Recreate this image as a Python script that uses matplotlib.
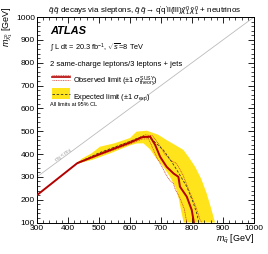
import numpy as np
import matplotlib
matplotlib.use("Agg")
import matplotlib.pyplot as plt
from matplotlib.lines import Line2D
from matplotlib.patches import Rectangle

plt.rcParams['font.family'] = ['Liberation Sans', 'DejaVu Sans']
plt.rcParams['mathtext.fontset'] = 'custom'
plt.rcParams['mathtext.rm'] = 'Liberation Sans'
plt.rcParams['mathtext.it'] = 'Liberation Sans:italic'
plt.rcParams['mathtext.bf'] = 'Liberation Sans:bold'

# observed limit
obs_x = [300, 430, 500, 600, 640, 665, 681, 697, 718, 740, 756, 761, 783, 799, 806]
obs_y = [220, 360, 398, 450, 474, 476, 440, 388, 344, 315, 300, 257, 213, 155, 100]

# observed +-1 sigma theory
thu_x = [430, 500, 600, 650, 672, 692, 712, 733, 750, 770, 794, 812, 826, 832]
thu_y = [362, 402, 456, 484, 480, 445, 400, 370, 359, 310, 228, 170, 111, 100]
thd_x = [430, 500, 600, 640, 660, 672, 688, 700, 705, 712, 725, 740, 746, 760, 775, 783]
thd_y = [358, 394, 444, 466, 466, 430, 380, 352, 340, 320, 290, 270, 245, 210, 160, 100]

# expected limit
exp_x = [430, 500, 600, 643, 670, 707, 730, 751, 783, 804, 815, 822]
exp_y = [360, 405, 455, 479, 465, 418, 375, 330, 257, 187, 140, 100]

# expected +-1 sigma band
bup_x = [430, 445, 476, 503, 550, 600, 621, 654, 690, 718, 745, 772, 790, 810, 830, 847, 862, 874]
bup_y = [362, 380, 403, 432, 447, 470, 498, 502, 485, 461, 440, 418, 385, 344, 290, 228, 160, 100]
blo_x = [430, 480, 540, 600, 621, 643, 665, 685, 707, 729, 748, 758, 765, 773]
blo_y = [358, 375, 405, 438, 446, 447, 420, 380, 345, 300, 250, 200, 150, 100]

red = '#b40000'
thcol = '#d03020'
yellow = '#ffe41c'

fig = plt.figure(figsize=(2.68, 2.54), dpi=100)
ax = fig.add_axes([0.138, 0.124, 0.81, 0.809])

ax.fill(bup_x + blo_x[::-1], bup_y + blo_y[::-1], color=yellow, lw=0, zorder=1)
ax.plot([300, 1000], [300, 1000], color='#bbbbbb', lw=0.6, zorder=1)
ax.plot(thu_x, thu_y, color=thcol, lw=0.5, ls=(0, (1.5, 1)), zorder=2)
ax.plot(thd_x, thd_y, color=thcol, lw=0.5, ls=(0, (1.5, 1)), zorder=2)
ax.plot(exp_x, exp_y, color='#333333', lw=0.6, ls=(0, (3, 2)), zorder=3)
ax.plot(obs_x, obs_y, color=red, lw=1.4, zorder=4)

ax.text(388, 392, r'$m_{\tilde{\chi}} < m_{\tilde{q}}$', rotation=36.4, fontsize=4,
        color='#999999', ha='center', va='center')

ax.set_xlim(300, 1000)
ax.set_ylim(100, 1000)
ax.set_xticks(np.arange(300, 1001, 100))
ax.set_yticks(np.arange(100, 1001, 100))
ax.set_xticks(np.arange(300, 1001, 20), minor=True)
ax.set_yticks(np.arange(100, 1001, 20), minor=True)
ax.tick_params(which='both', direction='in', top=True, right=True, labelsize=6, pad=1.5)
ax.tick_params(which='major', length=4, width=0.6)
ax.tick_params(which='minor', length=2, width=0.5)
for s in ax.spines.values():
    s.set_linewidth(0.7)

ax.set_xlabel(r'$m_{\tilde{q}}$ [GeV]', fontsize=6.5, loc='right', labelpad=1)
ax.set_ylabel(r'$m_{\tilde{\chi}^{0}_{1}}$ [GeV]', fontsize=6.5, loc='top')
ax.yaxis.set_label_coords(-0.1, 1.055)

fig.text(0.54, 0.957,
         r"$\tilde{q}\,\tilde{q}$ decays via sleptons, $\tilde{q}\,\tilde{q}\rightarrow \mathrm{q'q'll(lll)}\tilde{\chi}^{0}_{1}\,\tilde{\chi}^{0}_{1}$ + neutrinos",
         fontsize=5.8, ha='center', va='center')

ax.text(0.06, 0.93, 'ATLAS', transform=ax.transAxes, fontsize=8, fontweight='bold',
        fontstyle='italic', va='center')
ax.text(0.06, 0.85, r'$\int$ L dt = 20.3 fb$^{-1}$, $\sqrt{s}$=8 TeV', transform=ax.transAxes,
        fontsize=5.3, va='center')
ax.text(0.06, 0.77, '2 same-charge leptons/3 leptons + jets', transform=ax.transAxes,
        fontsize=5.5, va='center')


class ObsHandler:
    def legend_artist(self, legend, orig, fontsize, hb):
        x0, y0, w, h = hb.xdescent, hb.ydescent, hb.width, hb.height
        main = None
        for dy, lw, ls, col in [(h * 0.85, 0.5, (0, (1.5, 1)), thcol),
                                (h * 0.5, 1.2, '-', red),
                                (h * 0.15, 0.5, (0, (1.5, 1)), thcol)]:
            ln = Line2D([x0, x0 + w], [y0 + dy, y0 + dy], color=col, lw=lw, ls=ls,
                        transform=hb.get_transform())
            hb.add_artist(ln)
            if ls == '-':
                main = ln
        return main


class ExpHandler:
    def legend_artist(self, legend, orig, fontsize, hb):
        x0, y0, w, h = hb.xdescent, hb.ydescent, hb.width, hb.height
        r = Rectangle((x0, y0 - h * 0.2), w, h * 1.4, facecolor=yellow,
                      edgecolor='none', transform=hb.get_transform())
        hb.add_artist(r)
        ln = Line2D([x0, x0 + w], [y0 + h / 2, y0 + h / 2], color='#333333', lw=0.6,
                    ls=(0, (3, 2)), transform=hb.get_transform())
        hb.add_artist(ln)
        return r


class _O: pass
class _E: pass

leg = ax.legend([_O(), _E()],
                [r'Observed limit ($\pm$1 $\sigma^{\mathrm{SUSY}}_{\mathrm{theory}}$)',
                 r'Expected limit ($\pm$1 $\sigma_{\mathrm{exp}}$)'],
                handler_map={_O: ObsHandler(), _E: ExpHandler()},
                loc='upper left', bbox_to_anchor=(0.045, 0.745), frameon=False,
                fontsize=5.3, handlelength=2.4, handleheight=1.3, handletextpad=0.4,
                labelspacing=0.55, borderpad=0.2)

ax.text(0.06, 0.575, 'All limits at 95% CL', transform=ax.transAxes, fontsize=4, va='center')

fig.savefig('out.png', dpi=100)
